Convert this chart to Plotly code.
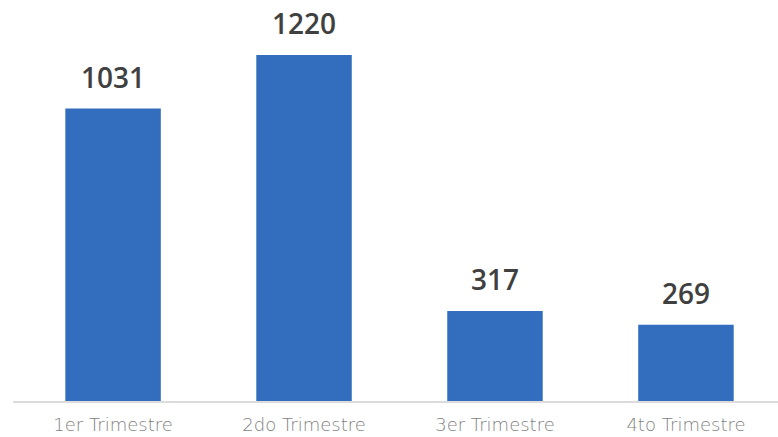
import plotly.graph_objects as go

categories = ["1er Trimestre", "2do Trimestre", "3er Trimestre", "4to Trimestre"]
values = [1031, 1220, 317, 269]
value_labels = [str(v) for v in values]

fig = go.Figure()
fig.add_trace(go.Bar(
    x=categories,
    y=values,
    marker=dict(color="#326ebd", line=dict(width=0)),
    hoverinfo="skip",
))

for c, v, t in zip(categories, values, value_labels):
    fig.add_annotation(
        x=c, y=v, text=t, showarrow=False,
        yanchor="bottom", yshift=11,
        font=dict(family="Open Sans", size=28, color="#404040", weight=600),
    )

fig.update_layout(
    width=778, height=437,
    margin=dict(l=13, r=0, t=0, b=36),
    paper_bgcolor="white", plot_bgcolor="white",
    bargap=0.5,
    showlegend=False,
    xaxis=dict(
        range=[-0.524, 3.482],
        showline=True, linecolor="#dcdcdc", linewidth=2,
        showgrid=False, ticks="",
        tickfont=dict(family="DejaVu Sans", size=18, color="#7f7f7f", weight=300),
        ticklabelstandoff=6,
        fixedrange=True,
    ),
    yaxis=dict(
        range=[0, 1414],
        visible=False,
        fixedrange=True,
    ),
)

fig.write_html(
    "out.html",
    config={"displayModeBar": False, "staticPlot": True},
    post_script="document.body.style.margin='0';document.body.style.padding='0';",
)
